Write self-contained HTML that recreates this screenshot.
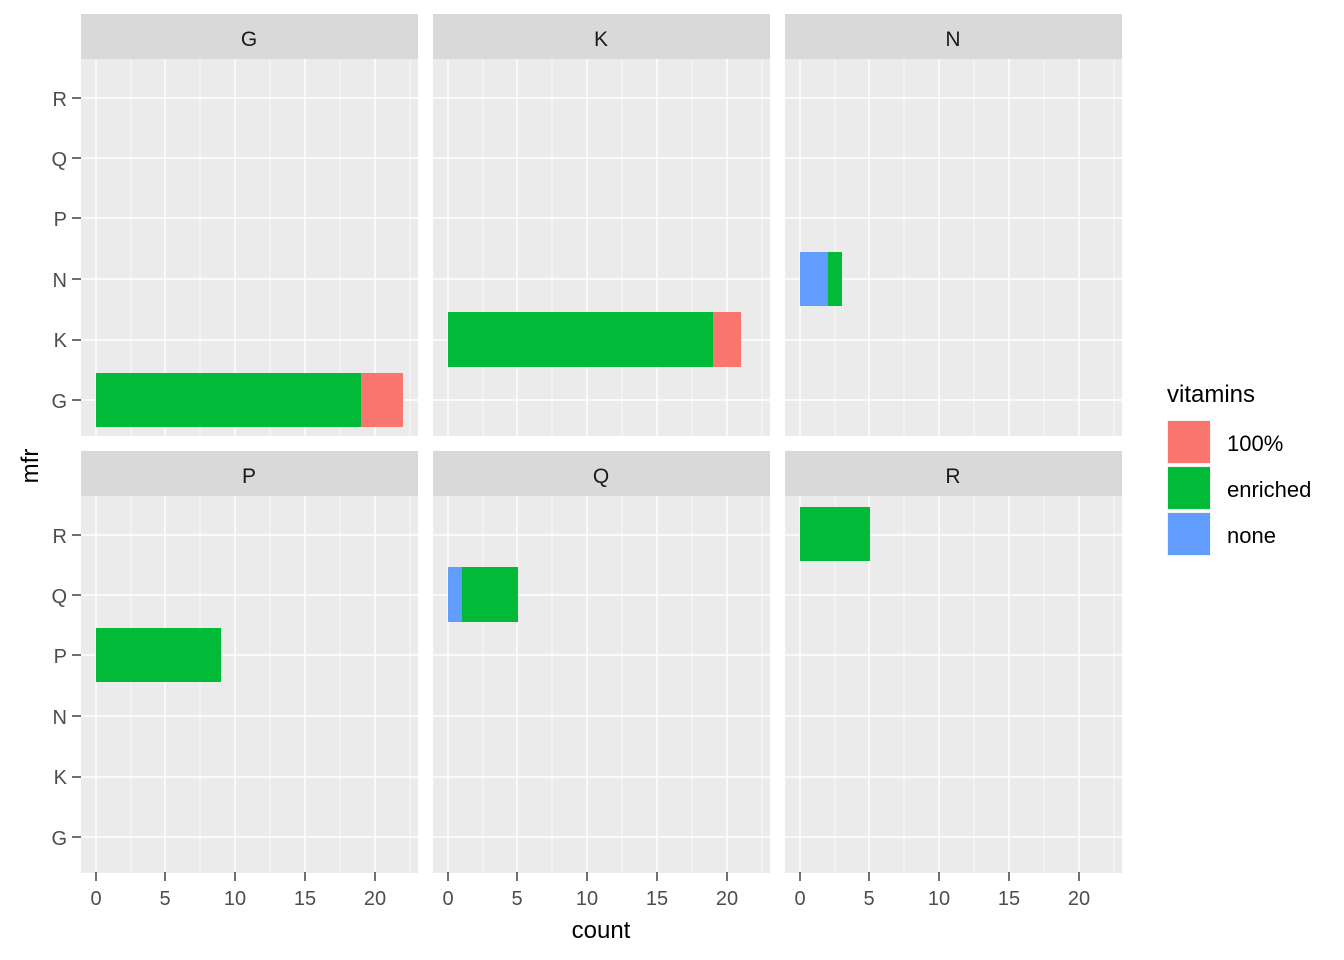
<!DOCTYPE html>
<html><head><meta charset="utf-8"><style>body{margin:0;background:#fff}svg{display:block}text{font-family:"Liberation Sans",Arial,sans-serif}</style></head><body>
<svg width="1344" height="960" xmlns="http://www.w3.org/2000/svg">
<defs>
<g id="grid">
<rect x="0" y="0" width="337" height="377" fill="#EBEBEB"/>
<g stroke="#fff" stroke-width="0.7">
<line x1="50" y1="0" x2="50" y2="377"/><line x1="119" y1="0" x2="119" y2="377"/><line x1="189" y1="0" x2="189" y2="377"/><line x1="259" y1="0" x2="259" y2="377"/><line x1="329" y1="0" x2="329" y2="377"/>
</g>
<g stroke="#fff" stroke-width="1.4">
<line x1="15" y1="0" x2="15" y2="377"/><line x1="84" y1="0" x2="84" y2="377"/><line x1="154" y1="0" x2="154" y2="377"/><line x1="224" y1="0" x2="224" y2="377"/><line x1="294" y1="0" x2="294" y2="377"/>
<line x1="0" y1="39" x2="337" y2="39"/><line x1="0" y1="99" x2="337" y2="99"/><line x1="0" y1="159" x2="337" y2="159"/><line x1="0" y1="220" x2="337" y2="220"/><line x1="0" y1="281" x2="337" y2="281"/><line x1="0" y1="341" x2="337" y2="341"/>
</g>
</g>
</defs>
<rect x="81" y="14" width="337" height="45" fill="#D9D9D9"/><text x="249" y="46" font-size="21" text-anchor="middle" fill="#1A1A1A">G</text>
<rect x="433" y="14" width="337" height="45" fill="#D9D9D9"/><text x="601" y="46" font-size="21" text-anchor="middle" fill="#1A1A1A">K</text>
<rect x="785" y="14" width="337" height="45" fill="#D9D9D9"/><text x="953" y="46" font-size="21" text-anchor="middle" fill="#1A1A1A">N</text>
<use href="#grid" x="81" y="59"/><use href="#grid" x="433" y="59"/><use href="#grid" x="785" y="59"/>
<rect x="81" y="451" width="337" height="45" fill="#D9D9D9"/><text x="249" y="483" font-size="21" text-anchor="middle" fill="#1A1A1A">P</text>
<rect x="433" y="451" width="337" height="45" fill="#D9D9D9"/><text x="601" y="483" font-size="21" text-anchor="middle" fill="#1A1A1A">Q</text>
<rect x="785" y="451" width="337" height="45" fill="#D9D9D9"/><text x="953" y="483" font-size="21" text-anchor="middle" fill="#1A1A1A">R</text>
<use href="#grid" x="81" y="496"/><use href="#grid" x="433" y="496"/><use href="#grid" x="785" y="496"/>
<rect x="96" y="373" width="265" height="54" fill="#00BA38"/><rect x="361" y="373" width="42" height="54" fill="#F8766D"/>
<rect x="448" y="312" width="265" height="55" fill="#00BA38"/><rect x="713" y="312" width="28" height="55" fill="#F8766D"/>
<rect x="800" y="252" width="28" height="54" fill="#619CFF"/><rect x="828" y="252" width="14" height="54" fill="#00BA38"/>
<rect x="96" y="628" width="125" height="54" fill="#00BA38"/>
<rect x="448" y="567" width="14" height="55" fill="#619CFF"/><rect x="462" y="567" width="56" height="55" fill="#00BA38"/>
<rect x="800" y="507" width="70" height="54" fill="#00BA38"/>
<g font-size="20" fill="#4D4D4D" text-anchor="end">
<text x="67" y="106">R</text><text x="67" y="166">Q</text><text x="67" y="226">P</text><text x="67" y="287">N</text><text x="67" y="347">K</text><text x="67" y="408">G</text>
<text x="67" y="543">R</text><text x="67" y="603">Q</text><text x="67" y="663">P</text><text x="67" y="724">N</text><text x="67" y="784">K</text><text x="67" y="845">G</text>
</g>
<g stroke="#333" stroke-width="1.4">
<line x1="72" x2="81" y1="98" y2="98"/><line x1="72" x2="81" y1="158" y2="158"/><line x1="72" x2="81" y1="218" y2="218"/><line x1="72" x2="81" y1="279" y2="279"/><line x1="72" x2="81" y1="340" y2="340"/><line x1="72" x2="81" y1="400" y2="400"/>
<line x1="72" x2="81" y1="535" y2="535"/><line x1="72" x2="81" y1="595" y2="595"/><line x1="72" x2="81" y1="655" y2="655"/><line x1="72" x2="81" y1="716" y2="716"/><line x1="72" x2="81" y1="777" y2="777"/><line x1="72" x2="81" y1="837" y2="837"/>
</g>
<g stroke="#333" stroke-width="1.4">
<line x1="96" x2="96" y1="872" y2="881"/><line x1="165" x2="165" y1="872" y2="881"/><line x1="235" x2="235" y1="872" y2="881"/><line x1="305" x2="305" y1="872" y2="881"/><line x1="375" x2="375" y1="872" y2="881"/>
<line x1="448" x2="448" y1="872" y2="881"/><line x1="517" x2="517" y1="872" y2="881"/><line x1="587" x2="587" y1="872" y2="881"/><line x1="657" x2="657" y1="872" y2="881"/><line x1="727" x2="727" y1="872" y2="881"/>
<line x1="800" x2="800" y1="872" y2="881"/><line x1="869" x2="869" y1="872" y2="881"/><line x1="939" x2="939" y1="872" y2="881"/><line x1="1009" x2="1009" y1="872" y2="881"/><line x1="1079" x2="1079" y1="872" y2="881"/>
</g>
<g font-size="20" fill="#4D4D4D" text-anchor="middle">
<text x="96" y="905">0</text><text x="165" y="905">5</text><text x="235" y="905">10</text><text x="305" y="905">15</text><text x="375" y="905">20</text>
<text x="448" y="905">0</text><text x="517" y="905">5</text><text x="587" y="905">10</text><text x="657" y="905">15</text><text x="727" y="905">20</text>
<text x="800" y="905">0</text><text x="869" y="905">5</text><text x="939" y="905">10</text><text x="1009" y="905">15</text><text x="1079" y="905">20</text>
</g>
<text x="601" y="938" font-size="24" text-anchor="middle" fill="#000">count</text>
<text x="38" y="466" font-size="24" text-anchor="middle" fill="#000" transform="rotate(-90 38 466)">mfr</text>
<text x="1167" y="402" font-size="24" fill="#000">vitamins</text>
<rect x="1167" y="420" width="44" height="44" fill="#F2F2F2"/><rect x="1168" y="421" width="42" height="42" fill="#F8766D"/>
<rect x="1167" y="466" width="44" height="44" fill="#F2F2F2"/><rect x="1168" y="467" width="42" height="42" fill="#00BA38"/>
<rect x="1167" y="512" width="44" height="44" fill="#F2F2F2"/><rect x="1168" y="513" width="42" height="42" fill="#619CFF"/>
<g font-size="22" fill="#000"><text x="1227" y="451">100%</text><text x="1227" y="497">enriched</text><text x="1227" y="543">none</text></g>
</svg>
</body></html>
